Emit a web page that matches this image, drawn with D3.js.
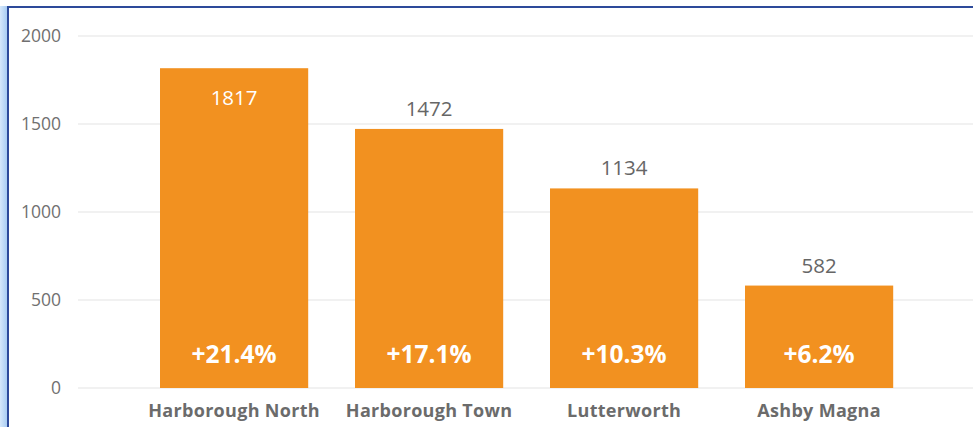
<!DOCTYPE html>
<html lang="en">
  <head>
    <meta charset="utf-8">
    <title>Harborough bars</title>
    <script src="https://d3js.org/d3.v7.min.js"></script>
    <style type="text/css">
      body { margin: 0; background: #fff; }
      svg { width: 973px; height: 427px; display: block; }
      .tick-label { font-family: "Open Sans", sans-serif; font-size: 17.5px; fill: #707070; }
      .value { font-family: "Open Sans", sans-serif; font-size: 20.5px; }
      .pct { font-family: "Open Sans", sans-serif; font-size: 24.5px; font-weight: bold; fill: #fff; }
      .cat { font-family: "Open Sans", sans-serif; font-size: 18px; font-weight: bold; fill: #6b6b6b; letter-spacing: 0.3px; }
    </style>
  </head>
  <body>
    <svg></svg>
    <script type="text/javascript">
      // data
      const areas = ["Harborough North", "Harborough Town", "Lutterworth", "Ashby Magna"];
      const counts = [1817, 1472, 1134, 582];
      const growth = ["+21.4%", "+17.1%", "+10.3%", "+6.2%"];
      const yTicks = [0, 500, 1000, 1500, 2000];

      const svg = d3.select("svg");

      // frame: light blue strip on the left, dark blue border
      const grad = svg.append("defs").append("linearGradient")
        .attr("id", "edge").attr("x1", 0).attr("x2", 1);
      grad.append("stop").attr("offset", 0).attr("stop-color", "#d6e8fb");
      grad.append("stop").attr("offset", 1).attr("stop-color", "#a9cdf3");
      svg.append("rect").attr("x", 0).attr("y", 0).attr("width", 7).attr("height", 427)
        .attr("fill", "url(#edge)");
      svg.append("rect").attr("x", 0).attr("y", 0).attr("width", 973).attr("height", 6)
        .attr("fill", "#fff");
      svg.append("line").attr("x1", 7).attr("x2", 973).attr("y1", 7).attr("y2", 7)
        .attr("stroke", "#2d4a9a").attr("stroke-width", 2);
      svg.append("line").attr("x1", 8).attr("x2", 8).attr("y1", 7).attr("y2", 427)
        .attr("stroke", "#2d4a9a").attr("stroke-width", 2);

      const y = d3.scaleLinear().domain([0, 2000]).range([388, 36]);
      const x = d3.scaleBand().domain(areas).range([136.6, 916.6])
        .paddingInner(0.24).paddingOuter(0.12);

      // gridlines + tick labels
      const grid = svg.append("g");
      grid.selectAll("line").data(yTicks).enter().append("line")
        .attr("x1", 78).attr("x2", 973)
        .attr("y1", d => y(d)).attr("y2", d => y(d))
        .attr("stroke", "#ececec").attr("stroke-width", 1.5);
      grid.selectAll("text").data(yTicks).enter().append("text")
        .attr("class", "tick-label")
        .attr("x", 61).attr("y", d => y(d)).attr("dy", "0.35em")
        .attr("text-anchor", "end")
        .text(d => d);

      const data = areas.map((a, i) => ({area: a, count: counts[i], pct: growth[i]}));

      const g = svg.selectAll("g.bar").data(data).enter().append("g").attr("class", "bar");

      g.append("rect")
        .attr("x", d => x(d.area))
        .attr("y", d => y(d.count))
        .attr("width", x.bandwidth())
        .attr("height", d => y(0) - y(d.count))
        .attr("fill", "#f29120");

      // value labels: inside the tallest bar, above the others
      g.append("text")
        .attr("class", "value")
        .attr("x", d => x(d.area) + x.bandwidth() / 2)
        .attr("y", (d, i) => i === 0 ? y(d.count) + 37 : y(d.count) - 13)
        .attr("text-anchor", "middle")
        .attr("fill", (d, i) => i === 0 ? "#fff" : "#666")
        .text(d => d.count);

      g.append("text")
        .attr("class", "pct")
        .attr("x", d => x(d.area) + x.bandwidth() / 2)
        .attr("y", 363)
        .attr("text-anchor", "middle")
        .text(d => d.pct);

      g.append("text")
        .attr("class", "cat")
        .attr("x", d => x(d.area) + x.bandwidth() / 2)
        .attr("y", 417)
        .attr("text-anchor", "middle")
        .text(d => d.area);
    </script>
  </body>
</html>
